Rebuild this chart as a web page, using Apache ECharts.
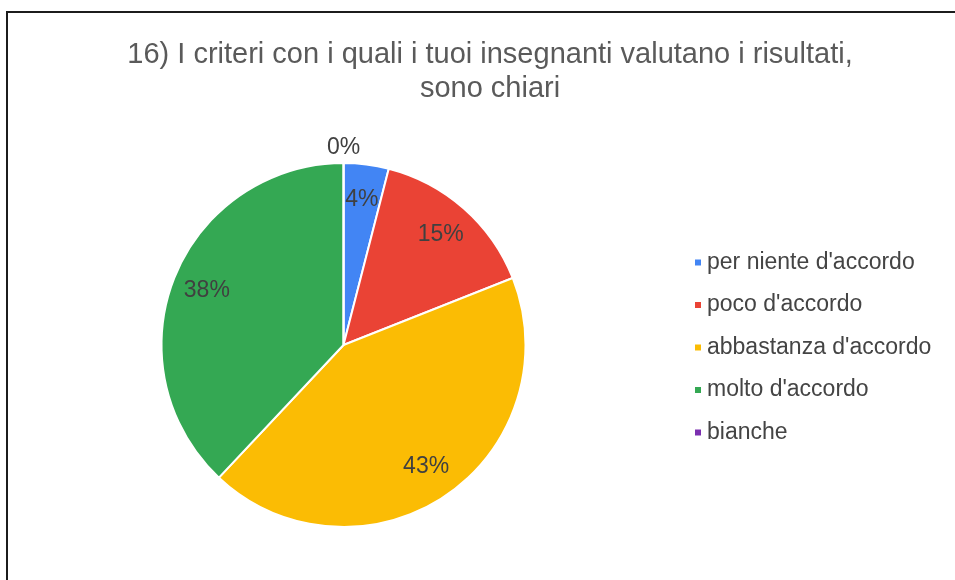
<!DOCTYPE html>
<html>
<head>
<meta charset="utf-8">
<script src="https://cdn.jsdelivr.net/npm/echarts@6/dist/echarts.min.js"></script>
<style>
  html, body { margin: 0; padding: 0; background: #fff; overflow: hidden; }
  #chart { width: 955px; height: 580px; }
  #frame { position: absolute; left: 6px; top: 11px; width: 2000px; height: 2000px;
           border-left: 2px solid #1c1c1c; border-top: 2px solid #1c1c1c; pointer-events: none; }
</style>
</head>
<body>
<div id="chart"></div>
<div id="frame"></div>
<script>
const titleText = "16) I criteri con i quali i tuoi insegnanti valutano i risultati,\nsono chiari";
const categories = ["per niente d'accordo", "poco d'accordo", "abbastanza d'accordo", "molto d'accordo", "bianche"];
const values = [4, 15, 43, 38, 0];
const colors = ["#4285F4", "#EA4335", "#FBBC04", "#34A853", "#7B2FB0"];

const center = [343.5, 345];
const R = 182;
const FONT = "'Liberation Sans', Arial, sans-serif";

const mainData = categories.map((n, i) => ({ name: n, value: values[i], itemStyle: { color: colors[i] } }));
const labelData = categories.map((n, i) => ({
  name: n, value: values[i],
  label: { show: values[i] > 0 }
}));
const zeroData = categories.map((n, i) => ({
  name: n, value: values[i],
  label: { show: values[i] === 0 }
}));

const chart = echarts.init(document.getElementById('chart'), null, { renderer: 'canvas' });
chart.setOption({
  animation: false,
  title: {
    text: titleText,
    left: 485,
    top: 33,
    textAlign: 'center',
    textStyle: { fontFamily: FONT, fontSize: 29, fontWeight: 'normal', color: '#5a5a5a', lineHeight: 34 }
  },
  legend: {
    orient: 'vertical',
    left: 693,
    top: 251,
    padding: 0,
    icon: 'rect',
    itemWidth: 8,
    itemHeight: 8,
    itemGap: 19.5,
    data: categories,
    textStyle: { fontFamily: FONT, fontSize: 23, color: '#444', lineHeight: 22 }
  },
  series: [
    {
      name: 'main',
      type: 'pie',
      center: center,
      radius: R,
      startAngle: 90,
      clockwise: true,
      silent: true,
      data: mainData,
      itemStyle: { borderColor: '#fff', borderWidth: 2 },
      label: { show: false },
      labelLine: { show: false }
    },
    {
      name: 'labels',
      type: 'pie',
      center: center,
      radius: [106, R],
      startAngle: 90,
      silent: true,
      percentPrecision: 0,
      data: labelData,
      itemStyle: { color: 'rgba(0,0,0,0)', borderWidth: 0 },
      label: { position: 'inside', formatter: '{d}%', fontFamily: FONT, fontSize: 23, color: '#404040' },
      labelLine: { show: false }
    },
    {
      name: 'zero',
      type: 'pie',
      center: center,
      radius: [R, 206],
      startAngle: 90,
      silent: true,
      percentPrecision: 0,
      data: zeroData,
      itemStyle: { color: 'rgba(0,0,0,0)', borderWidth: 0 },
      label: { position: 'inside', formatter: '{d}%', fontFamily: FONT, fontSize: 23, color: '#404040' },
      labelLine: { show: false }
    }
  ]
});
</script>
</body>
</html>
